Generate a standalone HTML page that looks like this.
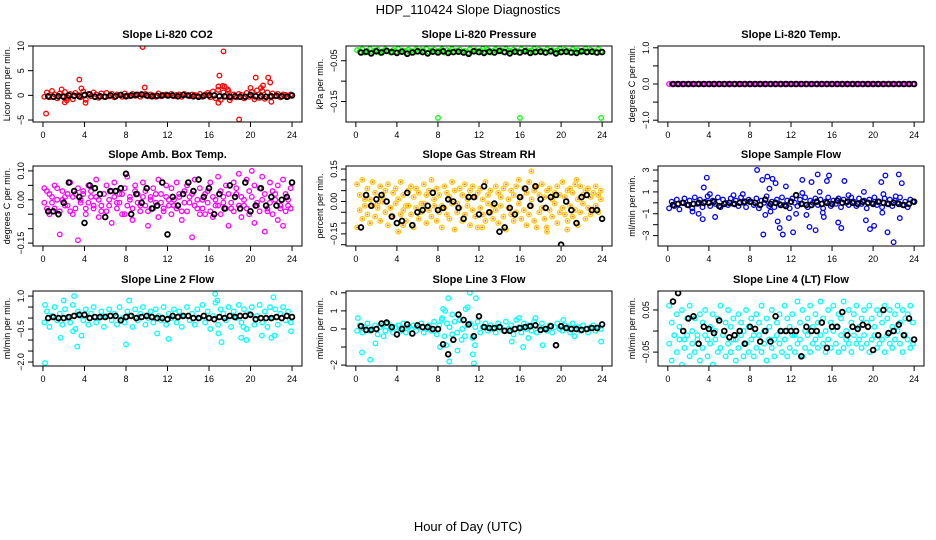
<!DOCTYPE html>
<html><head><meta charset="utf-8"><style>
html,body{margin:0;padding:0;background:#fff;}
svg{display:block;font-family:"Liberation Sans",sans-serif;}
</style></head><body>
<svg id="chart" width="936" height="540" viewBox="0 0 936 540" xmlns="http://www.w3.org/2000/svg">
<text x="468" y="14" text-anchor="middle" font-size="13">HDP_110424  Slope Diagnostics</text>
<text x="468" y="531" text-anchor="middle" font-size="13">Hour of Day (UTC)</text>
</svg>
<script>
// ---- data ----
const co2Red = [-0.3,0.6,-0.4,0.9,0.2,-0.6,0.4,-0.2,0.7,-0.5,0.3,-0.8,0.5,0.1,-0.4,0.8,-0.9,0.3,-0.2,0.6,0.2,-0.5,0.4,-0.3,0.5,-0.2,0.3,-0.4,0.2,0.1,-0.3,0.4,0.0,-0.2,0.3,-0.1,0.2,-0.3,0.1,0.3,-0.2,0.2,0.0,-0.3,0.4,-0.2,0.1,0.2,-0.1,0.3,-0.2,0.1,0.2,-0.3,0.3,0.0,-0.2,0.2,0.1,-0.1,0.3,-0.3,0.2,0.5,-0.4,0.8,-0.6,1.1,-0.9,0.6,-0.3,0.9,-0.5,0.2,-0.4,0.3,0.1,-0.6,0.5,-0.3,0.7,-0.8,1.0,-0.5,0.9,-0.7,0.6,-0.3,0.4,-0.2,0.3,-0.4,0.2,0.1,-0.3,0.2];
const co2Outliers = [[0.3,-3.7],[3.5,3.2],[3.7,1.4],[4.1,-1.5],[9.6,9.8],[9.8,1.6],[16.9,-1.5],[17.0,4.0],[16.9,1.8],[17.4,8.9],[17.3,1.9],[17.5,1.8],[18.9,-4.9],[20.0,1.5],[20.5,3.6],[21.0,1.5],[21.2,2.0],[21.7,3.6],[21.9,2.6],[22.0,-1.3],[2.1,-1.4],[1.8,1.2],[18.0,-1.0],[2.3,-1.0],[17.8,1.2]];
const co2Black = [-0.2,-0.3,-0.2,-0.3,0.0,-0.1,-0.2,0.1,0.2,-0.3,-0.2,-0.3,0.0,-0.2,0.1,-0.2,0.0,0.1,0.2,0.0,-0.2,-0.1,0.0,0.0,0.0,-0.2,0.1,0.0,-0.2,-0.3,-0.1,0.0,0.0,-0.2,-0.2,-0.3,-0.2,-0.3,-0.3,0.1,-0.2,-0.2,-0.3,-0.2,-0.1,-0.2,-0.3,0.0];

const presGreen = [-0.024,-0.028,-0.022,-0.030,-0.026,-0.021,-0.029,-0.025,-0.023,-0.031,-0.027,-0.022,-0.026,-0.030,-0.024,-0.028,-0.021,-0.027,-0.025,-0.029,-0.023,-0.026,-0.030,-0.022,-0.028,-0.024,-0.027,-0.021,-0.029,-0.025,-0.023,-0.028,-0.026,-0.022,-0.030,-0.024,-0.027,-0.021,-0.029,-0.025,-0.023,-0.028,-0.026,-0.031,-0.022,-0.027,-0.024,-0.029,-0.025,-0.021,-0.028,-0.023,-0.030,-0.026,-0.022,-0.027,-0.024,-0.029,-0.021,-0.025,-0.028,-0.023,-0.026,-0.030,-0.022,-0.027,-0.024,-0.029,-0.025,-0.021,-0.028,-0.023,-0.026,-0.030,-0.022,-0.027,-0.024,-0.029,-0.025,-0.021,-0.028,-0.023,-0.026,-0.030,-0.022,-0.027,-0.024,-0.029,-0.025,-0.021,-0.028,-0.023,-0.026,-0.030,-0.022,-0.027];
const presOutliers = [[8.0,-0.19],[16.0,-0.19],[23.9,-0.19]];
const presBlack = [-0.030,-0.028,-0.032,-0.027,-0.030,-0.026,-0.029,-0.031,-0.028,-0.033,-0.030,-0.027,-0.029,-0.032,-0.028,-0.030,-0.027,-0.031,-0.029,-0.028,-0.030,-0.033,-0.027,-0.029,-0.031,-0.028,-0.030,-0.026,-0.029,-0.032,-0.028,-0.030,-0.027,-0.031,-0.029,-0.028,-0.030,-0.027,-0.032,-0.029,-0.028,-0.030,-0.031,-0.027,-0.029,-0.028,-0.030,-0.029];

const tempMag = [0,0,0,0,0,0,0,0,0,0,0,0,0,0,0,0,0,0,0,0,0,0,0,0,0,0,0,0,0,0,0,0,0,0,0,0,0,0,0,0,0,0,0,0,0,0,0,0,0,0,0,0,0,0,0,0,0,0,0,0,0,0,0,0,0,0,0,0,0,0,0,0,0,0,0,0,0,0,0,0,0,0,0,0,0,0,0,0,0,0,0,0,0,0,0,0];
const tempBlack = [0,0,0,0,0,0,0,0,0,0,0,0,0,0,0,0,0,0,0,0,0,0,0,0,0,0,0,0,0,0,0,0,0,0,0,0,0,0,0,0,0,0,0,0,0,0,0,0];

const ambA = [0.04,-0.03,0.02,-0.01,0.05,0.00,-0.04,0.03,0.01,-0.02,0.06,-0.05,0.02,0.04,-0.01,0.03,-0.03,0.05,0.01,-0.02,0.07,0.00,-0.04,0.02,0.05,-0.02,0.03,0.06,-0.01,0.02,-0.05,0.04,0.08,0.01,-0.03,0.05,0.02,-0.02,0.06,0.03,-0.04,0.01,0.04,-0.01,0.07,0.02,-0.03,0.05,0.00,0.04,-0.02,0.06,0.01,-0.04,0.03,0.05,-0.01,0.02,0.07,-0.03,0.04,0.00,-0.05,0.03,0.06,0.01,-0.02,0.08,0.03,-0.01,0.05,0.02,-0.03,0.06,0.04,0.09,0.01,-0.02,0.07,0.03,0.10,0.05,-0.01,0.04,0.08,0.02,-0.04,0.06,0.03,0.00,0.05,-0.03,0.07,0.02,-0.02,0.04];
const ambB = [-0.01,0.03,-0.05,0.01,-0.03,0.04,-0.12,0.00,-0.02,0.02,-0.04,0.01,-0.03,-0.14,0.00,0.02,-0.05,-0.01,0.03,-0.03,0.01,-0.06,-0.02,0.02,-0.04,0.00,-0.08,0.01,-0.03,-0.01,0.02,-0.05,-0.02,0.00,-0.07,0.03,-0.01,-0.04,0.01,-0.02,-0.09,0.00,-0.03,0.02,-0.06,-0.01,-0.04,0.01,-0.02,-0.05,0.00,-0.03,0.02,-0.07,-0.01,-0.04,0.01,-0.13,-0.02,0.00,-0.05,-0.03,0.02,-0.01,-0.04,-0.06,0.00,-0.02,-0.05,0.01,-0.03,-0.09,-0.01,-0.04,0.02,-0.02,-0.06,0.00,-0.03,-0.05,0.01,-0.08,-0.02,-0.04,0.00,-0.11,-0.03,-0.01,-0.05,0.02,-0.07,-0.02,-0.09,-0.04,0.00,-0.03];
const ambBlack = [-0.04,-0.04,-0.05,-0.01,0.06,0.03,0.01,-0.08,0.05,0.04,0.02,-0.06,0.03,0.03,0.04,0.09,-0.05,0.02,-0.01,0.04,-0.03,-0.02,0.06,-0.12,0.01,-0.02,0.02,0.06,0.03,0.07,0.01,0.04,-0.05,0.02,-0.03,0.05,0.01,-0.03,0.06,-0.04,-0.02,0.04,-0.02,0.01,-0.02,0.00,0.01,0.06];

const rhA = [0.08,0.03,0.10,-0.02,0.06,0.01,0.09,0.04,-0.01,0.07,0.02,0.05,0.08,-0.03,0.04,0.06,0.01,0.09,0.03,-0.02,0.05,0.07,0.02,0.06,0.04,-0.01,0.08,0.03,0.05,0.10,0.01,0.06,0.03,-0.02,0.07,0.04,0.02,0.09,0.05,-0.01,0.06,0.03,0.08,0.01,0.05,0.07,0.02,0.04,0.06,0.01,0.09,0.03,0.05,-0.02,0.07,0.04,0.02,0.06,0.08,0.01,0.05,0.03,0.07,0.10,0.02,0.06,0.04,0.09,0.01,0.05,0.07,0.03,0.08,0.02,0.05,0.06,0.01,0.04,0.07,0.03,0.09,0.02,0.05,0.06,0.04,0.08,0.01,0.07,0.03,0.05,0.06,0.02,0.04,0.07,0.03,0.05];
const rhB = [-0.12,-0.04,-0.08,0.01,-0.06,-0.10,-0.02,-0.07,-0.03,-0.09,0.00,-0.05,-0.11,-0.03,-0.07,-0.01,-0.14,-0.06,-0.04,-0.09,-0.02,-0.06,-0.12,-0.03,-0.08,-0.05,-0.01,-0.10,-0.04,-0.07,-0.02,-0.09,-0.05,-0.12,-0.03,-0.06,-0.08,-0.01,-0.13,-0.05,-0.03,-0.09,-0.06,-0.02,-0.11,-0.04,-0.07,-0.12,-0.03,-0.06,-0.09,-0.01,-0.05,-0.08,-0.04,-0.10,-0.02,-0.07,-0.13,-0.03,-0.06,-0.09,-0.05,-0.01,-0.08,-0.04,-0.11,-0.06,-0.02,-0.09,-0.12,-0.05,-0.03,-0.08,-0.14,-0.04,-0.07,-0.01,-0.10,-0.05,-0.03,-0.06,-0.09,-0.02,-0.07,-0.04,-0.11,-0.05,-0.01,-0.08,-0.03,-0.06,-0.04,-0.02,-0.05,0.01];
const rhOutliers = [[17.1,0.14],[21.5,0.10],[20.6,-0.13],[18.6,-0.12],[12.3,-0.12],[4.6,-0.11]];
const rhBlack = [-0.12,0.03,-0.02,0.01,0.03,0.00,-0.07,-0.10,-0.09,0.04,-0.11,-0.05,-0.04,-0.02,0.04,-0.04,-0.03,0.01,0.00,-0.03,-0.08,0.02,0.02,-0.06,0.07,-0.05,-0.01,-0.14,-0.12,-0.03,-0.06,0.02,0.06,-0.02,0.07,0.01,-0.03,0.02,0.03,-0.20,0.00,-0.04,-0.10,0.02,0.03,-0.04,-0.04,-0.08];

const flowBlue = [-0.5,0.1,-0.3,0.3,-0.6,0.0,0.4,-0.2,0.2,-0.5,0.5,-0.1,0.3,-0.4,0.1,0.6,-0.3,0.2,-0.1,0.5,-0.4,0.3,0.0,-0.2,0.4,-0.1,0.2,-0.3,0.5,0.0,-0.4,0.3,0.1,-0.2,0.4,-0.5,0.2,0.0,0.6,-0.3,0.1,-0.4,0.3,-0.1,0.5,-0.2,0.2,-0.5,0.4,0.0,-0.3,0.3,-0.1,0.5,-0.4,0.2,0.0,0.4,-0.2,0.3,-0.5,0.1,0.5,-0.3,0.2,-0.1,0.4,-0.4,0.3,0.0,-0.2,0.5,0.1,-0.3,0.4,-0.1,0.2,-0.5,0.3,0.0,0.5,-0.2,0.1,-0.4,0.4,-0.1,0.3,-0.3,0.2,0.0,0.5,-0.2,0.1,-0.4,0.3,0.1];
const flowOutliers = [[3.5,1.4],[3.8,2.3],[3.4,-1.5],[3.0,-1.0],[4.6,-1.3],[4.1,0.8],[8.7,3.0],[9.2,2.1],[9.3,-2.9],[9.5,-1.1],[9.7,2.4],[9.9,1.3],[10.2,2.2],[10.5,1.8],[10.7,-1.7],[10.9,-2.3],[11.2,-2.9],[11.5,1.5],[11.8,-1.4],[12.2,-2.7],[13.1,2.1],[13.1,0.9],[13.5,-1.1],[13.8,-2.2],[14.0,1.9],[14.4,-2.5],[14.6,2.6],[14.8,1.0],[15.2,-1.3],[15.5,2.0],[15.7,2.5],[16.6,-1.8],[16.9,-2.3],[17.2,2.0],[17.6,0.7],[19.1,1.0],[19.3,-1.6],[19.7,-2.4],[20.1,-2.1],[20.8,1.9],[21.0,0.8],[21.2,2.5],[21.4,-2.7],[22.0,-3.6],[22.2,0.6],[22.5,2.6],[22.6,-1.4],[22.8,1.8],[12.5,-1.0],[15.1,-0.9],[20.9,-0.9],[10.0,-0.8],[2.4,-0.8],[6.4,0.7],[7.3,0.8]];
const flowBlack = [-0.2,-0.1,0.0,-0.2,-0.1,0.0,0.0,0.0,0.1,-0.3,-0.1,0.0,-0.1,0.0,0.1,0.1,0.0,-0.2,0.3,-0.1,0.0,-0.2,-0.3,0.1,0.7,-0.1,-0.2,-0.2,0.1,-0.1,0.0,-0.1,0.2,0.0,0.1,0.0,-0.1,0.1,0.0,-0.1,0.1,0.0,-0.1,0.0,-0.1,-0.2,-0.1,0.1];

const l2Cyan = [-0.2,0.3,-0.4,0.1,0.5,-0.1,0.2,-0.3,0.4,0.0,-0.2,0.6,-0.5,0.3,0.1,-0.1,0.4,-0.3,0.2,0.5,-0.2,0.0,0.3,-0.4,0.1,0.4,-0.1,0.2,-0.3,0.5,0.0,-0.2,0.3,0.1,-0.4,0.4,-0.1,0.2,0.5,-0.3,0.0,0.3,-0.2,0.4,0.1,-0.1,0.5,-0.3,0.2,0.0,0.4,-0.2,0.3,-0.4,0.1,0.5,-0.1,0.2,-0.3,0.4,0.0,0.6,-0.2,0.3,-0.5,0.1,0.7,-0.3,0.4,0.2,-0.1,0.5,-0.4,0.3,0.0,0.6,-0.2,0.4,-0.5,0.2,0.5,-0.3,0.1,0.6,-0.2,0.3,-0.4,0.5,0.0,0.4,-0.3,0.2,0.5,-0.1,0.3,-0.2];
const l2Outliers = [[0.2,-2.05],[0.2,0.6],[1.7,-0.9],[2.0,0.8],[3.0,1.0],[3.3,-1.3],[3.7,-0.8],[8.0,-1.2],[8.3,0.8],[11.0,-0.7],[12.1,-0.95],[16.6,1.1],[16.8,0.8],[16.9,-0.7],[17.2,-1.1],[19.1,-0.9],[19.3,-0.4],[21.1,-0.8],[22.2,0.95],[22.0,-0.9],[22.3,-0.8],[23.9,-0.6],[2.9,-0.6],[19.6,-1.0]];
const l2Black = [0.0,0.05,0.0,0.0,0.05,0.1,0.15,0.15,0.0,0.05,0.05,0.05,0.1,0.1,-0.1,0.05,0.1,0.0,0.05,0.1,0.05,0.0,0.0,-0.05,0.1,0.05,0.1,0.1,0.0,0.0,0.1,0.0,-0.05,0.05,0.0,0.1,0.05,0.1,0.1,0.15,-0.05,0.0,0.0,0.0,0.05,0.0,0.1,0.05];

const l3Cyan = [-0.1,0.2,-0.2,0.1,0.3,-0.1,0.0,0.2,-0.3,0.1,0.2,-0.1,0.3,0.0,-0.2,0.1,0.2,-0.1,0.3,-0.2,0.1,0.0,0.2,-0.1,0.1,0.3,-0.2,0.0,0.2,-0.1,0.4,-0.3,0.2,0.5,-0.4,0.3,0.1,-0.3,0.4,-0.2,0.5,0.0,-0.4,0.2,0.3,-0.5,0.1,0.4,-0.2,0.1,0.3,-0.1,0.2,0.0,-0.2,0.3,0.1,-0.1,0.4,0.0,0.2,-0.3,0.5,0.1,-0.2,0.3,0.0,0.2,-0.1,0.4,-0.2,0.1,0.3,0.0,-0.1,0.2,-0.2,0.1,0.3,0.0,-0.1,0.2,0.1,-0.2,0.3,0.0,0.1,-0.1,0.2,0.0,-0.2,0.1,0.2,-0.1,0.1,0.0];
const l3Outliers = [[0.2,0.6],[0.6,-1.3],[1.4,-1.7],[1.9,-0.8],[2.7,-0.4],[8.2,-1.0],[8.4,0.6],[8.5,1.1],[8.7,1.0],[8.8,-0.9],[9.0,1.7],[9.1,-1.8],[9.4,0.8],[9.9,-1.2],[10.3,-0.6],[10.7,1.1],[10.9,1.2],[11.1,2.0],[11.4,-1.4],[11.5,-1.9],[11.6,-0.9],[11.7,1.7],[15.2,-0.7],[15.9,0.6],[16.3,-1.0],[16.8,-0.5],[17.5,0.6],[18.2,-0.9],[20.2,0.5],[21.3,-0.4],[23.9,-0.7]];
const l3Black = [0.15,-0.05,-0.05,0.0,0.3,0.35,0.1,-0.3,0.0,0.25,-0.25,0.2,0.1,0.1,0.0,0.0,-0.85,-1.4,-0.6,0.8,0.5,0.25,-0.4,0.7,0.1,0.05,0.05,0.1,-0.1,-0.1,0.0,0.05,0.1,0.15,0.2,-0.05,0.0,0.15,-0.9,0.15,0.05,0.0,0.0,-0.05,0.0,0.05,0.05,0.25];

const l4A = [0.06,0.02,-0.01,0.04,0.01,0.05,-0.02,0.03,0.06,0.00,0.03,-0.01,0.04,0.02,0.05,-0.02,0.01,0.04,0.00,0.03,0.06,-0.01,0.02,0.05,0.01,0.03,-0.02,0.04,0.02,0.00,0.05,0.01,0.03,-0.01,0.04,0.02,0.06,0.00,0.03,0.01,0.05,-0.02,0.02,0.04,0.00,0.06,0.03,0.01,0.04,-0.01,0.07,0.02,0.05,0.00,0.03,0.06,0.01,0.04,0.02,0.07,0.03,0.00,0.05,0.02,0.06,0.01,0.04,0.03,0.07,0.00,0.05,0.02,0.04,0.06,0.01,0.03,0.05,0.02,0.06,0.03,0.01,0.05,0.04,0.02,0.06,0.03,0.05,0.01,0.04,0.06,0.02,0.05,0.03,0.04,0.06,0.02];
const l4B = [-0.03,-0.07,-0.01,-0.05,-0.02,-0.08,-0.04,-0.01,-0.06,-0.03,-0.05,-0.02,-0.07,-0.04,-0.01,-0.06,-0.03,-0.08,-0.02,-0.05,-0.04,-0.01,-0.06,-0.03,-0.05,-0.02,-0.07,-0.04,-0.01,-0.06,-0.03,-0.05,-0.02,-0.06,-0.04,-0.01,-0.05,-0.03,-0.07,-0.02,-0.04,-0.06,-0.01,-0.03,-0.05,-0.02,-0.06,-0.04,-0.01,-0.05,-0.03,-0.02,-0.06,-0.04,-0.01,-0.05,-0.03,-0.02,-0.04,-0.01,-0.03,-0.05,-0.02,-0.04,0.00,-0.03,-0.05,-0.01,-0.04,-0.02,-0.03,-0.05,-0.01,-0.03,-0.02,-0.04,-0.01,-0.03,-0.05,-0.02,-0.01,-0.04,-0.03,-0.02,-0.05,-0.01,-0.03,-0.04,-0.02,0.00,-0.03,-0.05,-0.01,-0.02,-0.04,-0.03];
const l4Black = [0.07,0.09,0.00,0.03,0.035,-0.03,0.01,0.005,-0.005,0.025,0.0,-0.015,-0.01,0.00,-0.03,0.01,0.005,-0.025,0.00,-0.025,0.035,0.00,0.00,0.00,0.00,-0.06,0.01,0.00,0.00,0.02,-0.04,0.01,0.01,0.045,-0.01,0.01,0.005,0.015,0.01,-0.045,-0.01,0.05,-0.005,0.00,0.015,-0.01,0.03,-0.02];

// ---- layout ----
const NS = "http://www.w3.org/2000/svg";
const svg = document.getElementById("chart");
const cols = [[33,302],[346,612],[658,924]];
const rows = [[46,122],[166,246],[291,366]];
const xlim = [-0.96, 24.96];
const xTicks = [0,4,8,12,16,20,24];
const grid96 = Array.from({length:96},(_, i)=>0.125 + i*0.25);
const grid48 = Array.from({length:48},(_, i)=>0.5 + i*0.5);

function mk(tag, attrs, parent){ const e=document.createElementNS(NS,tag); for(const k in attrs) e.setAttribute(k,attrs[k]); (parent||svg).appendChild(e); return e; }

const panels = [
 {name:"co2", title:"Slope Li-820 CO2", ylab:"Licor ppm per min.", r:0,c:0, ylim:[-5.4,10.0], ticks:[-5,0,5,10], labels:["−5","0","5","10"],
  series:[{v:co2Red,col:"#ff0000"},{pts:co2Outliers,col:"#ff0000"},{v:co2Black,col:"#000",black:true}]},
 {name:"pressure", title:"Slope Li-820 Pressure", ylab:"kPa per min.", r:0,c:1, ylim:[-0.2,-0.014], ticks:[-0.05,-0.10,-0.15], labels:["−0.05","","−0.15"],
  series:[{v:presGreen,col:"#00ff00"},{pts:presOutliers,col:"#00ff00"},{v:presBlack,col:"#000",black:true}]},
 {name:"temp", title:"Slope Li-820 Temp.", ylab:"degrees C per min.", r:0,c:2, ylim:[-1.05,1.05], ticks:[-1,-0.5,0,0.5,1], labels:["−1.0","","0.0","","1.0"],
  series:[{v:tempMag,col:"#ff00ff"},{v:tempBlack,col:"#000",black:true}]},
 {name:"amb-box-temp", title:"Slope Amb. Box Temp.", ylab:"degrees C per min.", r:1,c:0, ylim:[-0.16,0.117], ticks:[-0.15,-0.10,-0.05,0,0.05,0.10], labels:["−0.15","","","0.00","","0.10"],
  series:[{v:ambA,col:"#ff00ff"},{v:ambB,col:"#ff00ff"},{v:ambBlack,col:"#000",black:true}]},
 {name:"gas-rh", title:"Slope Gas Stream RH", ylab:"percent per min.", r:1,c:1, ylim:[-0.206,0.164], ticks:[-0.2,-0.15,-0.10,-0.05,0,0.05,0.10,0.15], labels:["","−0.15","","","0.00","","","0.15"],
  series:[{v:rhA,col:"#ffcc00",cross:true},{v:rhB,col:"#ffcc00",cross:true},{pts:rhOutliers,col:"#ffcc00",cross:true},{v:rhBlack,col:"#000",black:true}]},
 {name:"sample-flow", title:"Slope Sample Flow", ylab:"ml/min per min.", r:1,c:2, ylim:[-3.95,3.37], ticks:[-3,-2,-1,0,1,2,3], labels:["−3","","−1","","1","","3"],
  series:[{v:flowBlue,col:"#0000ff"},{pts:flowOutliers,col:"#0000ff"},{v:flowBlack,col:"#000",black:true}]},
 {name:"line2-flow", title:"Slope Line 2 Flow", ylab:"ml/min per min.", r:2,c:0, ylim:[-2.18,1.23], ticks:[-2,-1.5,-1,-0.5,0,0.5,1], labels:["−2.0","","","−0.5","","","1.0"],
  series:[{v:l2Cyan,col:"#00ffff"},{pts:l2Outliers,col:"#00ffff"},{v:l2Black,col:"#000",black:true}]},
 {name:"line3-flow", title:"Slope Line 3 Flow", ylab:"ml/min per min.", r:2,c:1, ylim:[-2.05,2.1], ticks:[-2,-1,0,1,2], labels:["−2","","0","1","2"],
  series:[{v:l3Cyan,col:"#00ffff"},{pts:l3Outliers,col:"#00ffff"},{v:l3Black,col:"#000",black:true}]},
 {name:"line4-flow", title:"Slope Line 4 (LT) Flow", ylab:"ml/min per min.", r:2,c:2, ylim:[-0.083,0.095], ticks:[-0.05,0,0.05], labels:["−0.05","","0.05"],
  series:[{v:l4A,col:"#00ffff"},{v:l4B,col:"#00ffff"},{v:l4Black,col:"#000",black:true}]}
];

panels.forEach(p=>{
  const [x0,x1]=cols[p.c], [y0,y1]=rows[p.r];
  const g = mk("g",{});
  
  
  const X = h => x0 + (h - xlim[0])/(xlim[1]-xlim[0])*(x1-x0);
  const Y = v => y1 - (v - p.ylim[0])/(p.ylim[1]-p.ylim[0])*(y1-y0);
  const t = mk("text",{x:(x0+x1)/2,y:y0-8,"text-anchor":"middle","font-size":"11","font-weight":"bold"},g);
  t.textContent = p.title;
  
  
  const clip = mk("clipPath",{id:"clip-"+p.name},g);
  mk("rect",{x:x0,y:y0,width:x1-x0,height:y1-y0},clip);
  const pg = mk("g",{"clip-path":"url(#clip-"+p.name+")"},g);
  
  
  p.series.forEach(s=>{
    let pts = [];
    if (s.v) { const grid = s.v.length===96?grid96:grid48; pts = s.v.map((v,i)=>[grid[i],v]); }
    else pts = s.pts;
    pts.forEach(([h,v])=>{
      const cx=X(h), cy=Y(v);
      const c = mk("circle",{cx:cx.toFixed(1),cy:cy.toFixed(1),r:s.black?2.4:2.3,fill:"none",stroke:s.col,"stroke-width":s.black?1.8:1.3},pg);
      
      
      if (s.cross) {
        const d = mk("circle",{cx:cx.toFixed(1),cy:cy.toFixed(1),r:1.0,fill:"#ff0000",opacity:0.6},pg);
        
        
      }
    });
  });
  const box = mk("rect",{x:x0,y:y0,width:x1-x0,height:y1-y0,fill:"none",stroke:"#000","stroke-width":1},g);
  
  
  mk("line",{x1:X(0),x2:X(24),y1:y1,y2:y1,stroke:"#000"},g);
  xTicks.forEach(h=>{
    mk("line",{x1:X(h),x2:X(h),y1:y1,y2:y1+5,stroke:"#000"},g);
    const l = mk("text",{x:X(h),y:y1+16,"text-anchor":"middle","font-size":"9"},g);
    l.textContent = h;
    
    
  });
  mk("line",{x1:x0,x2:x0,y1:Y(p.ticks[0]),y2:Y(p.ticks[p.ticks.length-1]),stroke:"#000"},g);
  p.ticks.forEach((v,i)=>{
    const yy=Y(v);
    mk("line",{x1:x0-5,x2:x0,y1:yy,y2:yy,stroke:"#000"},g);
    if (p.labels[i]) {
      const l = mk("text",{x:x0-9,y:yy,"text-anchor":"middle","font-size":"9",transform:`rotate(-90 ${x0-9} ${yy})`},g);
      l.textContent = p.labels[i];
      
      
    }
  });
  const ylx = x0-23, yly=(y0+y1)/2;
  const yl = mk("text",{x:ylx,y:yly,"text-anchor":"middle","font-size":"9",transform:`rotate(-90 ${ylx} ${yly})`},g);
  yl.textContent = p.ylab;
  
  
});
</script>
</body></html>
